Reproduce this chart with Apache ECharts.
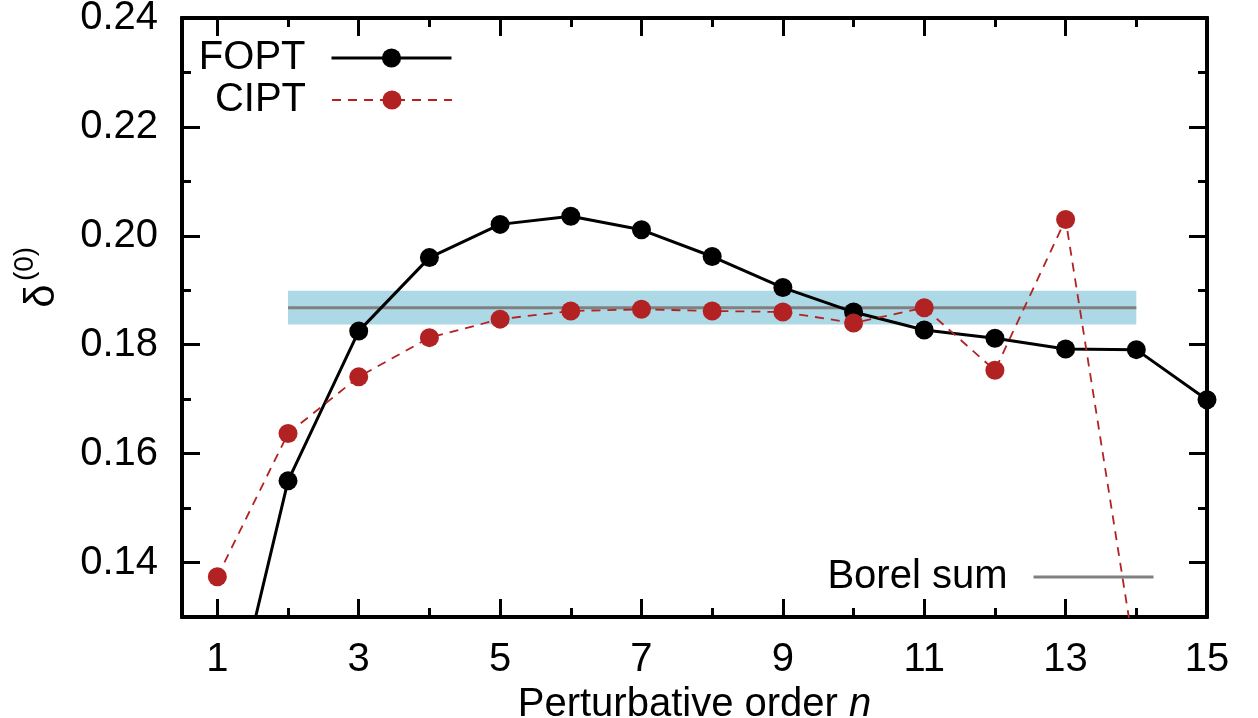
<!DOCTYPE html>
<html>
<head>
<meta charset="utf-8">
<script src="https://cdn.jsdelivr.net/npm/echarts@6/dist/echarts.min.js"></script>
<style>
  html, body { margin: 0; padding: 0; background: #fff; }
  #chart { width: 1258px; height: 718px; }
</style>
</head>
<body>
<div id="chart"></div>
<script>
// Perturbative orders and partial sums of delta^(0)
const orders = [1, 2, 3, 4, 5, 6, 7, 8, 9, 10, 11, 12, 13, 14, 15];
const foptValues = [0.1005, 0.1550, 0.1825, 0.1960, 0.2021, 0.2036, 0.2011, 0.1962, 0.1905, 0.1860, 0.1827, 0.1812, 0.1792, 0.1791, 0.1699];
const ciptValues = [0.1374, 0.1637, 0.1741, 0.1813, 0.1847, 0.1862, 0.1865, 0.1862, 0.1860, 0.1840, 0.1868, 0.1753, 0.2030, 0.1213];

// Borel sum with its uncertainty band, drawn over orders 2..14
const borelRange = [2, 14];
const borelValue = 0.1868;
const borelBand = [0.1837, 0.1899];

// Axis ticks
const xMajorTicks = [1, 3, 5, 7, 9, 11, 13, 15];
const xMinorTicks = [2, 4, 6, 8, 10, 12, 14];
const yMajorTicks = [0.14, 0.16, 0.18, 0.20, 0.22, 0.24];
const yMinorTicks = [0.13, 0.15, 0.17, 0.19, 0.21, 0.23];

const FONT = 'Liberation Sans, Arial, Helvetica, sans-serif';
const RED = '#b22222';

const pair = (xs, ys) => xs.map((x, i) => [x, ys[i]]);

function xAxisDef(position, ticks, len, labels) {
  return {
    type: 'value', position: position, min: 0.5, max: 15,
    axisLine: { show: true, onZero: false, lineStyle: { color: '#000', width: 4 } },
    axisTick: { show: true, inside: true, length: len, customValues: ticks, lineStyle: { color: '#000', width: 3 } },
    axisLabel: labels ? { show: true, customValues: ticks, fontSize: 40, fontFamily: FONT, color: '#000', margin: 23 } : { show: false },
    splitLine: { show: false }
  };
}
function yAxisDef(position, ticks, len, labels) {
  return {
    type: 'value', position: position, min: 0.13, max: 0.24,
    axisLine: { show: true, onZero: false, lineStyle: { color: '#000', width: 4 } },
    axisTick: { show: true, inside: true, length: len, customValues: ticks, lineStyle: { color: '#000', width: 3 } },
    axisLabel: labels ? { show: true, customValues: ticks, fontSize: 40, fontFamily: FONT, color: '#000', margin: 24,
      formatter: v => v.toFixed(2) } : { show: false },
    splitLine: { show: false }
  };
}

const xAxes = [
  xAxisDef('bottom', xMajorTicks, 18, true),
  xAxisDef('bottom', xMinorTicks, 9, false),
  xAxisDef('top', xMajorTicks, 18, false),
  xAxisDef('top', xMinorTicks, 9, false)
];
Object.assign(xAxes[0], {
  name: 'Perturbative order {i|n}', nameLocation: 'middle', nameGap: 49,
  nameTextStyle: { fontSize: 40, fontFamily: FONT, color: '#000',
    rich: { i: { fontSize: 40, fontFamily: FONT, fontStyle: 'italic', color: '#000' } } }
});
const yAxes = [
  yAxisDef('left', yMajorTicks, 18, true),
  yAxisDef('left', yMinorTicks, 9, false),
  yAxisDef('right', yMajorTicks, 18, false),
  yAxisDef('right', yMinorTicks, 9, false)
];

const legendBase = {
  orient: 'vertical', align: 'right', padding: 0,
  itemWidth: 120, itemHeight: 24,
  textStyle: { fontSize: 40, fontFamily: FONT, color: '#000', lineHeight: 40, padding: [0, 21, 0, 0] }
};

const option = {
  animation: false,
  backgroundColor: '#fff',
  grid: { left: 182, top: 18, right: 51, bottom: 101, containLabel: false, outerBoundsMode: 'none' },
  xAxis: xAxes,
  yAxis: yAxes,
  legend: [
    Object.assign({}, legendBase, { data: ['FOPT'], right: 805, top: 38, lineStyle: { width: 3 } }),
    Object.assign({}, legendBase, { data: ['CIPT'], right: 805, top: 80, lineStyle: { width: 2 } }),
    Object.assign({}, legendBase, { data: ['Borel sum'], right: 103, top: 557, itemStyle: { opacity: 0 }, lineStyle: { width: 3 } })
  ],
  graphic: [
    { type: 'text', x: 42, y: 296, rotation: Math.PI / 2,
      style: { text: 'δ', fontSize: 42, fontFamily: FONT, fill: '#000', align: 'center', verticalAlign: 'middle' } },
    { type: 'text', x: 25, y: 264, rotation: Math.PI / 2,
      style: { text: '(0)', fontSize: 28, fontFamily: FONT, fill: '#000', align: 'center', verticalAlign: 'middle' } }
  ],
  series: [
    {
      name: 'band', type: 'line', data: [], z: 0, silent: true,
      markArea: {
        silent: true,
        itemStyle: { color: '#add8e6', opacity: 1 },
        data: [[{ coord: [borelRange[0], borelBand[0]] }, { coord: [borelRange[1], borelBand[1]] }]]
      }
    },
    {
      name: 'Borel sum', type: 'line', z: 1, symbol: 'none',
      data: borelRange.map(x => [x, borelValue]),
      lineStyle: { color: '#808080', width: 3 }, itemStyle: { color: '#808080' }
    },
    {
      name: 'FOPT', type: 'line', z: 3, symbol: 'circle', symbolSize: 19,
      data: pair(orders, foptValues),
      lineStyle: { color: '#000', width: 3 }, itemStyle: { color: '#000' }
    },
    {
      name: 'CIPT', type: 'line', z: 4, symbol: 'circle', symbolSize: 19,
      data: pair(orders, ciptValues),
      lineStyle: { color: RED, width: 1.8, type: [9, 7] }, itemStyle: { color: RED }
    }
  ]
};

const chart = echarts.init(document.getElementById('chart'), null, { renderer: 'canvas' });
chart.setOption(option);
</script>
</body>
</html>
